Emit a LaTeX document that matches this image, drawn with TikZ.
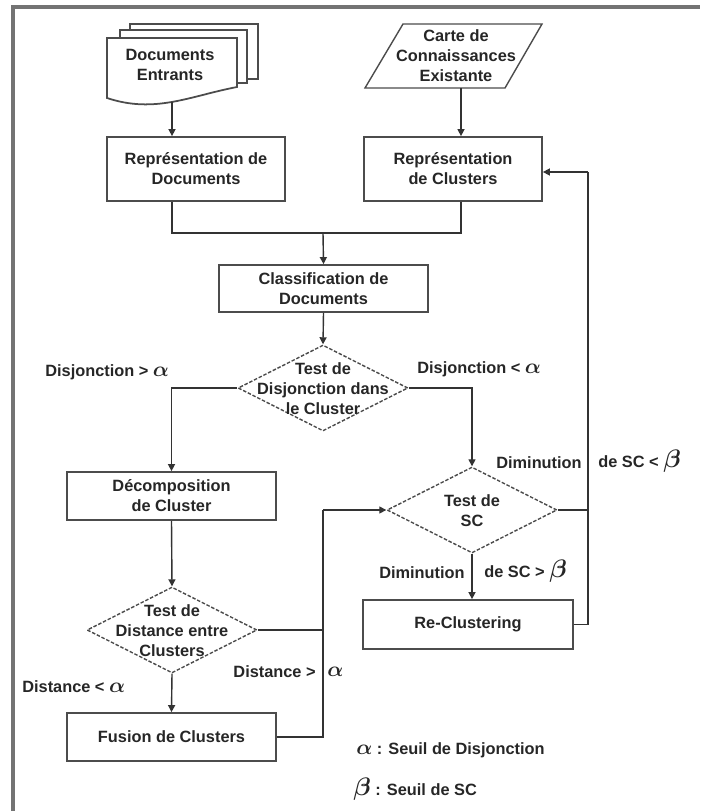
\documentclass[tikz,border=0pt]{standalone}
\usepackage{amsmath,amssymb}
\usepackage{fontspec}
\setmainfont{Liberation Sans}
\usepackage{tikz}
\usetikzlibrary{positioning, arrows.meta, shapes.geometric, calc}
\newcommand{\flowfont}{\fontsize{9.3}{11.3}\selectfont\bfseries}
\newcommand{\alf}{{\large$\boldsymbol{\alpha}$}}
\newcommand{\bet}{{\Large$\boldsymbol{\beta}$}}

\begin{document}
\begin{tikzpicture}[
    x=0.02cm, y=-0.02cm,
    proc/.style={rectangle, draw=black!70, line width=1pt, fill=white, align=center, font=\flowfont, text=black!85, minimum height=1.28cm},
    test/.style={diamond, draw=black!70, line width=0.8pt, dash pattern=on 2pt off 1pt, inner sep=0pt, minimum width=3.4cm, minimum height=1.72cm},
    sheet/.style={draw=black!70, line width=1pt, fill=white},
    arr/.style={-{Triangle[length=4pt, width=4pt]}, draw=black!80, line width=0.8pt},
    line/.style={draw=black!80, line width=0.8pt},
    lab/.style={font=\flowfont, text=black!85, inner sep=0pt, align=center}
]
\useasboundingbox (0,0) rectangle (700,811);

% Frame
\draw[black!55, line width=2.4pt] (13,811) -- (13,7) -- (700,7);

% Incoming documents (stacked sheets)
\draw[sheet] (130,24) rectangle (258,79);
\draw[sheet] (120,30) rectangle (247,83);
\draw[sheet] (107,38) -- (237,38) -- (237,87) .. controls (190,96) and (155,114) .. (107,98) -- cycle;
\node[lab] (docs) at (170,65) {Documents\\Entrants};
\coordinate (docsb) at (172,102);

% Existing knowledge map (parallelogram)
\draw[draw=black!70, line width=0.8pt] (403,24) -- (542,24) -- (505,88) -- (365,88) -- cycle;
\node[lab] (carte) at (456,56) {Carte de\\Connaissances\\Existante};
\coordinate (carteb) at (461,88);

% Representation steps
\node[proc, minimum width=3.56cm] (repdoc) at (196,169) {Représentation de\\Documents};
\node[proc, minimum width=3.56cm] (repclu) at (453,169) {Représentation\\de Clusters};
\node[proc, minimum width=4.18cm, minimum height=0.94cm] (classif) at (323.5,288.5) {Classification de\\Documents};

% Tests and actions
\node[test] (dis) at (323,388) {};
\node[lab] (distxt) at (323,389) {Test de\\Disjonction dans\\le Cluster};
\node[proc, minimum width=4.18cm, minimum height=0.96cm] (decomp) at (171.5,496) {Décomposition\\de Cluster};
\node[test] (sc) at (472,510) {};
\node[lab] (sctxt) at (472,511) {Test de\\SC};
\node[proc, minimum width=4.2cm, minimum height=0.98cm] (reclus) at (468,624.5) {Re-Clustering};
\node[test] (dist) at (172,630) {};
\node[lab] (disttxt) at (172,631) {Test de\\Distance entre\\Clusters};
\node[proc, minimum width=4.18cm, minimum height=0.96cm] (fusion) at (171.5,737) {Fusion de Clusters};

% Junction points
\coordinate (m) at (323,233);
\coordinate (jx) at (323,510);
\coordinate (rx) at (588,172);

% Connectors
\draw[arr] (docsb) -- (docsb |- repdoc.north);
\draw[arr] (carteb) -- (carteb |- repclu.north);
\draw[line] (docsb |- repdoc.south) |- (m);
\draw[line] (carteb |- repclu.south) |- (m);
\draw[arr] (m) -- (classif.north);
\draw[arr] (classif.south) -- (dis.north);
\draw[arr] (dis.west) -| (decomp.north);
\draw[arr] (dis.east) -| (sc.north);
\draw[arr] (decomp.south) -- (dist.north);
\draw[arr] (dist.south) -- (fusion.north);
\draw[line] (dist.east) -- (dist.east -| jx);
\draw[line] (fusion.east) -| (jx);
\draw[arr] (jx) -- (sc.west);
\draw[arr] (sc.south) -- (sc.south |- reclus.north);
\draw[line] (sc.east) -- (sc.east -| rx);
\draw[line] (reclus.east) -| (rx);
\draw[arr] (rx) -- (rx -| repclu.east);

% Labels
\node[lab, anchor=west] (l1) at (45,372) {Disjonction > \alf};
\node[lab, anchor=west] (l2) at (417,369) {Disjonction < \alf};
\node[lab, anchor=east] (l3a) at (582,463) {Diminution};
\node[lab, anchor=west] (l3b) at (598,461) {de SC < \bet};
\node[lab, anchor=east] (l4a) at (465,573) {Diminution};
\node[lab, anchor=west] (l4b) at (484,571) {de SC > \bet};
\node[lab, anchor=west] (l5) at (22,687) {Distance < \alf};
\node[lab, anchor=east] (l6a) at (316,672) {Distance >};
\node[lab, anchor=west] (l6b) at (327,672) {\alf};

% Legend
\node[lab, anchor=west] (leg1) at (356,750) {\alf\ : Seuil de Disjonction};
\node[lab, anchor=west] (leg2) at (353,789) {\bet\ : Seuil de SC};
\end{tikzpicture}
\end{document}
